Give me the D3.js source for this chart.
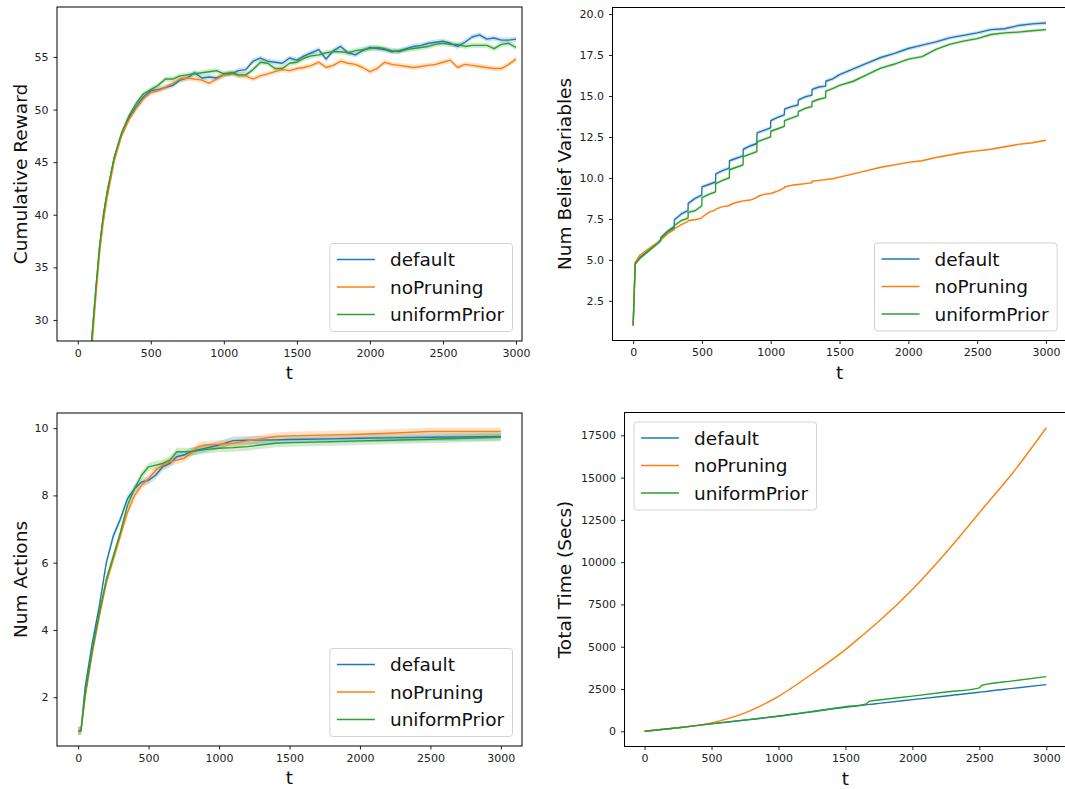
<!DOCTYPE html>
<html>
<head>
<meta charset="utf-8">
<script src="https://cdn.jsdelivr.net/npm/d3@7"></script>
<style>
  body { margin: 0; background: #fff; }
  svg { display: block; font-family: "DejaVu Sans", sans-serif; }
</style>
</head>
<body>
<svg id="chart" width="1065" height="789"></svg>
<script>
const seriesNames = ['default', 'noPruning', 'uniformPrior'];
const seriesColors = ['#1f77b4', '#ff7f0e', '#2ca02c'];
const xTicks = [0, 500, 1000, 1500, 2000, 2500, 3000];

// cumulative reward
const rewardT = [80, 100, 125, 150, 175, 200, 250, 300, 350, 400, 450, 500, 550, 600, 650, 700, 750, 800, 850, 900,
  950, 1000, 1050, 1100, 1150, 1200, 1250, 1300, 1350, 1400, 1450, 1500, 1550, 1600, 1650, 1700, 1750, 1800, 1850, 1900,
  1950, 2000, 2050, 2100, 2150, 2200, 2250, 2300, 2350, 2400, 2450, 2500, 2550, 2600, 2650, 2700, 2750, 2800, 2850, 2900,
  2950, 3000];
const rewardDefault = [25.0, 28.8, 33.0, 37.0, 39.8, 42.0, 45.4, 47.6, 49.2, 50.3, 51.2, 51.8, 51.9, 52.1, 52.3, 52.8, 53.0, 53.5, 53.0, 53.1,
  53.0, 53.3, 53.4, 53.7, 53.8, 54.6, 54.9, 54.6, 54.5, 54.4, 54.9, 54.7, 55.1, 55.4, 55.7, 54.8, 55.6, 56.0, 55.4, 55.2,
  55.6, 55.9, 55.8, 55.7, 55.5, 55.6, 55.8, 56.0, 56.1, 56.3, 56.4, 56.5, 56.3, 56.0, 56.4, 56.9, 57.1, 56.7, 56.8, 56.6,
  56.6, 56.7];
const rewardNoPruning = [24.0, 28.0, 32.4, 36.4, 39.3, 41.5, 45.1, 47.5, 49.0, 50.1, 51.0, 51.6, 51.8, 52.1, 52.5, 52.9, 53.0, 52.9, 52.8, 52.5,
  52.9, 53.3, 53.5, 53.2, 53.2, 52.9, 53.2, 53.4, 53.6, 53.8, 53.7, 53.9, 54.0, 54.2, 54.5, 54.0, 54.2, 54.6, 54.4, 54.3,
  54.0, 53.6, 53.9, 54.5, 54.3, 54.2, 54.1, 54.0, 54.1, 54.2, 54.3, 54.5, 54.7, 54.0, 54.3, 54.2, 54.1, 54.0, 53.9, 53.9,
  54.3, 54.8];
const rewardUniform = [25.2, 28.9, 33.2, 37.1, 40.0, 42.1, 45.5, 47.8, 49.4, 50.6, 51.5, 51.9, 52.3, 52.9, 52.9, 53.2, 53.3, 53.4, 53.5, 53.6,
  53.7, 53.4, 53.5, 53.3, 53.3, 53.8, 54.5, 54.4, 53.9, 53.9, 54.4, 54.5, 54.9, 55.1, 55.2, 55.4, 55.5, 55.5, 55.4, 55.6,
  55.7, 55.8, 55.9, 55.8, 55.6, 55.5, 55.7, 55.8, 55.9, 56.0, 56.2, 56.3, 56.2, 56.2, 56.0, 56.1, 56.1, 56.1, 55.8, 56.2,
  56.3, 55.9];

// num belief variables
const beliefT = [0, 15, 50, 100, 150, 199, 200, 250, 299, 300, 350, 399, 400, 450, 499, 500, 550, 599, 600, 650,
  699, 700, 750, 799, 800, 850, 899, 900, 950, 999, 1000, 1050, 1099, 1100, 1150, 1199, 1200, 1250, 1299, 1300,
  1350, 1399, 1400, 1450, 1500, 1600, 1700, 1800, 1900, 2000, 2100, 2200, 2300, 2400, 2500, 2600, 2700, 2800, 2900, 3000];
const beliefDefault = [1.0, 4.8, 5.15, 5.5, 5.85, 6.2, 6.35, 6.75, 7.05, 7.45, 7.8, 8.0, 8.45, 8.75, 8.95, 9.45, 9.6, 9.75, 10.25, 10.45,
  10.6, 11.05, 11.2, 11.35, 11.75, 11.95, 12.1, 12.75, 12.9, 13.05, 13.5, 13.7, 13.85, 14.2, 14.35, 14.45, 14.75, 14.95, 15.05, 15.4,
  15.55, 15.6, 15.9, 16.05, 16.3, 16.65, 17.0, 17.35, 17.6, 17.9, 18.1, 18.3, 18.55, 18.7, 18.85, 19.05, 19.1, 19.3, 19.4, 19.45];
const beliefNoPruning = [1.0, 4.85, 5.3, 5.6, 5.9, 6.15, 6.2, 6.6, 6.85, 6.9, 7.15, 7.35, 7.4, 7.45, 7.55, 7.6, 7.9, 8.05, 8.1, 8.25,
  8.3, 8.35, 8.5, 8.6, 8.6, 8.65, 8.8, 8.85, 9.0, 9.05, 9.05, 9.2, 9.4, 9.45, 9.55, 9.6, 9.6, 9.65, 9.7, 9.8,
  9.85, 9.9, 9.9, 9.95, 10.05, 10.25, 10.45, 10.65, 10.8, 10.95, 11.05, 11.25, 11.4, 11.55, 11.65, 11.75, 11.9, 12.05, 12.15, 12.3];
const beliefUniform = [1.0, 4.75, 5.1, 5.45, 5.8, 6.15, 6.3, 6.7, 6.95, 7.1, 7.4, 7.55, 7.9, 8.0, 8.3, 8.8, 9.0, 9.15, 9.65, 9.85,
  10.0, 10.5, 10.65, 10.8, 11.3, 11.45, 11.6, 12.2, 12.35, 12.5, 12.85, 13.0, 13.15, 13.5, 13.65, 13.8, 14.05, 14.25, 14.35, 14.65,
  14.8, 14.9, 15.3, 15.45, 15.65, 15.9, 16.3, 16.7, 16.95, 17.25, 17.4, 17.85, 18.15, 18.35, 18.5, 18.75, 18.85, 18.9, 18.98, 19.05];

// num actions
const actionsT = [0, 20, 50, 100, 150, 200, 250, 300, 350, 400, 450, 500, 550, 600, 650, 700, 750, 800, 850, 900,
  1000, 1100, 1200, 1400, 1500, 1800, 2000, 2200, 2500, 3000];
const actionsDefault = [1.0, 1.0, 2.3, 3.6, 4.7, 6.0, 6.8, 7.3, 7.9, 8.2, 8.4, 8.45, 8.6, 8.85, 8.95, 9.15, 9.2, 9.3, 9.35, 9.4,
  9.5, 9.63, 9.64, 9.65, 9.66, 9.68, 9.7, 9.71, 9.73, 9.75];
const actionsNoPruning = [1.0, 1.0, 2.0, 3.3, 4.4, 5.4, 6.1, 6.8, 7.5, 8.0, 8.3, 8.5, 8.75, 8.9, 9.0, 9.05, 9.1, 9.25, 9.45, 9.5,
  9.52, 9.55, 9.62, 9.75, 9.77, 9.8, 9.82, 9.85, 9.9, 9.9];
const actionsUniform = [1.0, 1.0, 2.1, 3.4, 4.5, 5.5, 6.2, 6.9, 7.7, 8.2, 8.6, 8.85, 8.9, 8.95, 9.05, 9.3, 9.3, 9.3, 9.33, 9.36,
  9.4, 9.42, 9.45, 9.55, 9.57, 9.6, 9.62, 9.64, 9.67, 9.73];

// total time
const timeT = [0, 250, 500, 750, 1000, 1250, 1500, 1650, 1680, 1750, 2000, 2250, 2500, 2520, 2750, 3000];
const timeDefault = [0, 210, 440, 660, 890, 1150, 1420, 1560, 1590, 1650, 1870, 2090, 2310, 2330, 2540, 2760];
const timeNoPruning = [0, 200, 500, 1090, 2070, 3390, 4830, 5830, 6030, 6510, 8390, 10560, 12920, 13110, 15290, 17950];
const timeUniform = [0, 210, 450, 670, 900, 1170, 1450, 1600, 1780, 1850, 2080, 2320, 2570, 2720, 2980, 3230];

const panels = [
  { id: 1, t: rewardT, values: [rewardDefault, rewardNoPruning, rewardUniform], band: [0.25, 0.25, 0.25],
    left: 57, right: 522, top: 7, bottom: 341, xDomain: [-142, 3041], yDomain: [28, 59.75],
    yTicks: [30, 35, 40, 45, 50, 55], yFormat: d3.format('d'), yLabel: 'Cumulative Reward', yLabelX: 27,
    legend: 'lr', curve: d3.curveLinear },
  { id: 2, t: beliefT, values: [beliefDefault, beliefNoPruning, beliefUniform], band: [0.12, 0.06, 0.1],
    left: 612.5, right: 1066.6, top: 7.5, bottom: 340.5, xDomain: [-150, 3150], yDomain: [0.08, 20.4],
    yTicks: [2.5, 5, 7.5, 10, 12.5, 15, 17.5, 20], yFormat: d3.format('.1f'), yLabel: 'Num Belief Variables', yLabelX: 571,
    legend: 'lr', curve: d3.curveLinear },
  { id: 3, t: actionsT, values: [actionsDefault, actionsNoPruning, actionsUniform], band: [0.12, 0.12, 0.12],
    left: 57, right: 522, top: 413, bottom: 746, xDomain: [-150, 3150], yDomain: [0.55, 10.45],
    yTicks: [2, 4, 6, 8, 10], yFormat: d3.format('d'), yLabel: 'Num Actions', yLabelX: 27,
    legend: 'lr', curve: d3.curveLinear },
  { id: 4, t: timeT, values: [timeDefault, timeNoPruning, timeUniform], band: [0, 0, 0],
    left: 624.5, right: 1066.4, top: 412.5, bottom: 746.5, xDomain: [-150, 3150], yDomain: [-900, 18850],
    yTicks: [0, 2500, 5000, 7500, 10000, 12500, 15000, 17500], yFormat: d3.format('d'), yLabel: 'Total Time (Secs)', yLabelX: 571,
    legend: 'ul', curve: d3.curveMonotoneX }
];

const svg = d3.select('#chart');

function drawLegend(g, p) {
  const w = 182.6, h = 88;
  const bx = p.legend === 'lr' ? p.right - 9.5 - w : p.left + 9.5;
  const by = p.legend === 'lr' ? p.bottom - 9.5 - h : p.top + 9.5;
  const lg = g.append('g').attr('transform', `translate(${bx},${by})`);
  lg.append('rect')
    .attr('width', w).attr('height', h).attr('rx', 3)
    .attr('fill', '#fff').attr('fill-opacity', 0.8)
    .attr('stroke', '#d3d3d3').attr('stroke-width', 1);
  const rowY = [16, 43.5, 71];
  seriesNames.forEach((name, i) => {
    lg.append('line')
      .attr('x1', 7).attr('x2', 45).attr('y1', rowY[i]).attr('y2', rowY[i])
      .attr('stroke', seriesColors[i]).attr('stroke-width', 1.5);
    lg.append('text')
      .attr('x', 60).attr('y', rowY[i] + 6.8)
      .attr('fill', '#111').style('font-size', '18.5px')
      .text(name);
  });
}

function plot(p) {
  const g = svg.append('g');
  const x = d3.scaleLinear().domain(p.xDomain).range([p.left, p.right]);
  const y = d3.scaleLinear().domain(p.yDomain).range([p.bottom, p.top]);

  const clipId = 'clip' + p.id;
  svg.append('clipPath').attr('id', clipId).append('rect')
    .attr('x', p.left).attr('y', p.top)
    .attr('width', p.right - p.left).attr('height', p.bottom - p.top);
  const inner = g.append('g').attr('clip-path', `url(#${clipId})`);

  const series = p.values.map(vals => p.t.map((t, j) => [t, vals[j]]));

  series.forEach((pts, i) => {
    if (!p.band[i]) return;
    const hw = p.band[i];
    inner.append('path').datum(pts)
      .attr('d', d3.area().curve(p.curve).x(d => x(d[0])).y0(d => y(d[1] - hw)).y1(d => y(d[1] + hw)))
      .attr('fill', seriesColors[i]).attr('fill-opacity', 0.22);
  });
  series.forEach((pts, i) => {
    inner.append('path').datum(pts)
      .attr('d', d3.line().curve(p.curve).x(d => x(d[0])).y(d => y(d[1])))
      .attr('fill', 'none').attr('stroke', seriesColors[i])
      .attr('stroke-width', 1.4).attr('stroke-linejoin', 'round');
  });

  const xAxis = g.append('g')
    .attr('transform', `translate(0,${p.bottom})`)
    .call(d3.axisBottom(x).tickValues(xTicks).tickSize(3.5).tickPadding(4.4).tickFormat(d3.format('d')));
  const yAxis = g.append('g')
    .attr('transform', `translate(${p.left},0)`)
    .call(d3.axisLeft(y).tickValues(p.yTicks).tickSize(3.5).tickPadding(5).tickFormat(p.yFormat));
  [xAxis, yAxis].forEach(a => {
    a.select('.domain').remove();
    a.attr('font-family', '"DejaVu Sans", sans-serif').attr('font-size', 11);
    a.selectAll('line').attr('stroke', '#222');
    a.selectAll('text').attr('fill', '#222');
  });

  g.append('rect')
    .attr('x', p.left).attr('y', p.top)
    .attr('width', p.right - p.left).attr('height', p.bottom - p.top)
    .attr('fill', 'none').attr('stroke', '#000').attr('stroke-width', 1);

  g.append('text')
    .attr('x', (p.left + p.right) / 2).attr('y', p.bottom + 38)
    .attr('text-anchor', 'middle').attr('fill', '#111')
    .style('font-size', '18.5px')
    .text('t');

  g.append('text')
    .attr('transform', `translate(${p.yLabelX},${(p.top + p.bottom) / 2}) rotate(-90)`)
    .attr('text-anchor', 'middle').attr('fill', '#111')
    .style('font-size', '18.5px')
    .text(p.yLabel);

  drawLegend(g, p);
}

panels.forEach(plot);
</script>
</body>
</html>
